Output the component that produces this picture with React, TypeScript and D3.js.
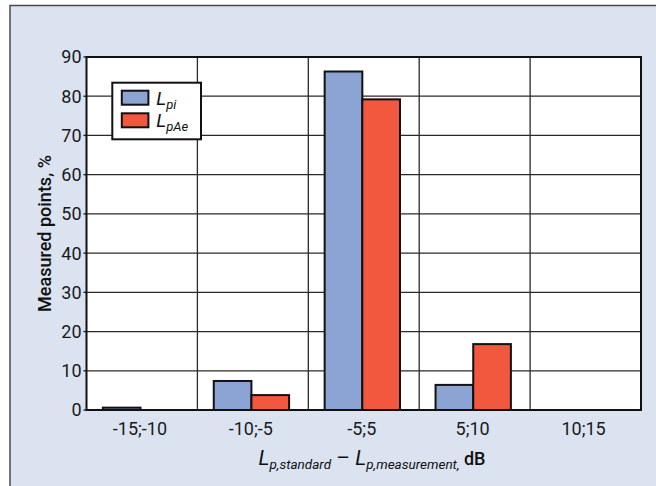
import React from "react";
import * as d3 from "d3";

// Difference between standard and measured sound pressure level, dB
const categories = ["-15;-10", "-10;-5", "-5;5", "5;10", "10;15"];
const seriesKeys = ["Lpi", "LpAe"];
const lpiValues = [0.6, 7.4, 86.3, 6.4, 0];
const lpaeValues = [0, 3.8, 79.2, 16.8, 0];
const yTicks = [0, 10, 20, 30, 40, 50, 60, 70, 80, 90];
const seriesColors = ["#8ca4d4", "#f1583e"];

const W = 656;
const H = 486;
const margin = { left: 86.5, right: 15, top: 57, bottom: 76 };
const FONT = "Roboto, 'Liberation Sans', Arial, sans-serif";

export default function App() {
  const plotW = W - margin.left - margin.right;
  const plotH = H - margin.top - margin.bottom;

  const x0 = d3.scaleBand<string>().domain(categories).range([0, plotW]).padding(0);
  const x1 = d3
    .scaleBand<string>()
    .domain(seriesKeys)
    .range([0, x0.bandwidth()])
    .paddingInner(0)
    .paddingOuter(0.472)
    .align(0.46);
  const y = d3.scaleLinear().domain([0, 90]).range([plotH, 0]);

  const valuesByKey: Record<string, number[]> = { Lpi: lpiValues, LpAe: lpaeValues };

  const bars: { key: string; cat: string; v: number; color: string }[] = [];
  categories.forEach((cat, i) => {
    seriesKeys.forEach((k, j) => {
      const v = valuesByKey[k][i];
      if (v > 0) bars.push({ key: k, cat, v, color: seriesColors[j] });
    });
  });

  return (
    <svg
      width={W}
      height={H}
      style={{ position: "absolute", left: 0, top: 0, display: "block" }}
      fontFamily={FONT}
    >
      {/* panel */}
      <rect x={0} y={0} width={W} height={H} fill="#ffffff" />
      <rect x={10} y={5.5} width={W} height={H} fill="#dae3ef" stroke="#4a4a4a" strokeWidth={1.5} />

      <g transform={`translate(${margin.left},${margin.top})`}>
        <rect x={0} y={0} width={plotW} height={plotH} fill="#ffffff" />

        {/* horizontal gridlines */}
        {yTicks.slice(1, -1).map((t) => (
          <line key={`h${t}`} x1={0} x2={plotW} y1={y(t)} y2={y(t)} stroke="#2a2a2a" strokeWidth={1.3} />
        ))}
        {/* vertical gridlines between categories */}
        {categories.slice(1).map((c) => (
          <line key={`v${c}`} x1={x0(c)!} x2={x0(c)!} y1={0} y2={plotH} stroke="#2a2a2a" strokeWidth={1.3} />
        ))}

        {/* bars */}
        {bars.map((b) => (
          <rect
            key={`${b.cat}-${b.key}`}
            x={x0(b.cat)! + x1(b.key)!}
            y={y(b.v)}
            width={x1.bandwidth()}
            height={plotH - y(b.v)}
            fill={b.color}
            stroke="#111"
            strokeWidth={2}
          />
        ))}

        {/* plot frame */}
        <rect x={0} y={0} width={plotW} height={plotH} fill="none" stroke="#111" strokeWidth={2} />

        {/* y ticks and labels */}
        {yTicks.map((t) => (
          <g key={`yt${t}`} transform={`translate(0,${y(t)})`}>
            <line x1={-3} x2={0} y1={0} y2={0} stroke="#111" strokeWidth={1.3} />
            <text x={-5} y={0} dy="0.36em" textAnchor="end" fontSize={18} fill="#1a1a1a">
              {t}
            </text>
          </g>
        ))}

        {/* x labels */}
        {categories.map((c) => (
          <text
            key={`xl${c}`}
            x={x0(c)! + x0.bandwidth() / 2 - 2}
            y={plotH + 25}
            textAnchor="middle"
            fontSize={18}
            fill="#1a1a1a"
          >
            {c}
          </text>
        ))}

        {/* legend */}
        <g transform="translate(25.8,25.7)">
          <rect x={0} y={0} width={88.7} height={56.6} fill="#ffffff" stroke="#111" strokeWidth={2} />
          {seriesKeys.map((k, i) => (
            <g key={`lg${k}`} transform={`translate(9.5,${8 + i * 22.6})`}>
              <rect x={0} y={0} width={26.6} height={14} fill={seriesColors[i]} stroke="#111" strokeWidth={2} />
              <text x={34.5} y={14} fontSize={19} fontStyle="italic" fill="#111">
                L
                <tspan fontSize={13} dy={4}>
                  {i === 0 ? "pi" : "pAe"}
                </tspan>
              </text>
            </g>
          ))}
        </g>
      </g>

      {/* y axis title */}
      <text
        transform={`translate(51,${margin.top + plotH / 2}) rotate(-90)`}
        textAnchor="middle"
        fontSize={18}
        fontWeight={500}
        fill="#111"
      >
        Measured points, %
      </text>

      {/* x axis title */}
      <text x={372} y={465} textAnchor="middle" fill="#111" fontSize={18}>
        <tspan fontStyle="italic" fontSize={21}>L</tspan>
        <tspan fontStyle="italic" fontSize={13.5} dy={4}>p,standard</tspan>
        <tspan fontSize={21} dy={-4}> – </tspan>
        <tspan fontStyle="italic" fontSize={21}>L</tspan>
        <tspan fontStyle="italic" fontSize={13.5} dy={4}>p,measurement,</tspan>
        <tspan fontSize={18} fontWeight={500} dy={-4}> dB</tspan>
      </text>
    </svg>
  );
}
